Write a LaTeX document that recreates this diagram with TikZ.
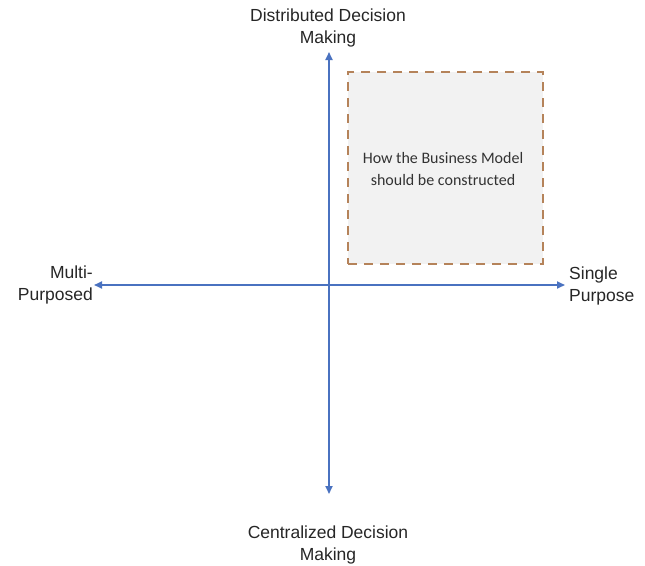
\documentclass[tikz,border=0pt]{standalone}
\usepackage{fontspec}
\setmainfont{Liberation Sans}
\newfontfamily\boxfont{Carlito}
\usetikzlibrary{arrows.meta}
\definecolor{axisblue}{HTML}{4A72C0}
\definecolor{dashbrown}{HTML}{B5835A}
\definecolor{boxgray}{HTML}{F2F2F2}
\begin{document}
\begin{tikzpicture}[x=1pt,y=-1pt,
  axis/.style={draw=axisblue,line width=1.8pt,-{Triangle[length=8pt,width=7pt]}},
  lbl/.style={font=\fontsize{17.5}{22}\selectfont,text=black!85,inner sep=0pt,align=center},
  quad/.style={draw=dashbrown,line width=2pt,dash pattern=on 9pt off 7pt,fill=boxgray}]
\useasboundingbox (0,0) rectangle (645,565);
% quadrant box
\node[quad,minimum width=195pt,minimum height=192pt,inner sep=0pt] (q) at (445.5,168) {};
\node[font=\boxfont\fontsize{16}{22}\selectfont,text=black!80,align=center] (qt) at (443,169)
  {How the Business Model\\should be constructed};
% axis ends
\coordinate (c) at (329,285);
\coordinate (top) at (329,52);
\coordinate (bot) at (329,494);
\coordinate (lft) at (94,285);
\coordinate (rgt) at (565,285);
\draw[axis] (c) -- (top);
\draw[axis] (c) -- (bot);
\draw[axis] (c) -- (lft);
\draw[axis] (c) -- (rgt);
% axis labels
\node[lbl] (n) at (328,28) {Distributed Decision\\Making};
\node[lbl] (s) at (328,545) {Centralized Decision\\Making};
\node[lbl,align=right,anchor=east] (w) at (93,285) {Multi-\\Purposed};
\node[lbl,align=left,anchor=west] (e) at (569,286) {Single\\Purpose};
\end{tikzpicture}
\end{document}
